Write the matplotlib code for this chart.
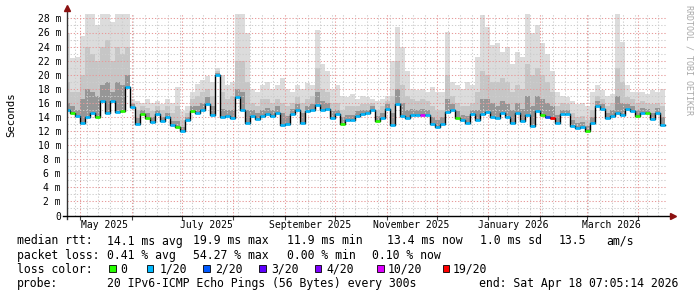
import numpy as np
import pandas as pd
import matplotlib
matplotlib.use("Agg")
import matplotlib.pyplot as plt
import matplotlib.dates as mdates
from matplotlib.ticker import MultipleLocator, FuncFormatter, NullFormatter
from matplotlib.patches import Rectangle

MONO = "DejaVu Sans Mono"
plt.rcParams["font.family"] = [MONO]

# ---------------- data (ms, one value per 3-day step) ----------------
data_start = "2025-04-22"
data_step = "3D"

median_ms = [
    15.0, 14.6, 14.2, 13.2, 14.0, 14.6, 14.0, 16.3, 14.5, 16.3,
    14.7, 14.8, 18.2, 15.4, 13.0, 14.4, 13.9, 13.3, 14.4, 13.4,
    14.0, 12.8, 12.6, 12.0, 13.5, 14.8, 14.6, 15.0, 15.8, 14.3,
    19.9, 14.0, 14.2, 13.8, 16.9, 15.0, 13.2, 14.1, 13.7, 14.1,
    14.4, 14.1,
    14.6, 12.8, 13.0, 14.4, 15.0, 13.1, 14.8, 15.0, 15.7, 15.0,
    15.2, 13.9, 14.4, 13.0, 13.6, 13.5, 14.1, 14.4, 14.5, 15.0,
    13.4, 13.9, 15.2, 12.8, 15.9, 14.2, 13.8, 14.3, 14.3, 14.3,
    14.3, 13.0, 12.6, 13.0, 14.7, 15.0, 13.9, 13.5, 13.2, 14.4,
    13.6, 14.4, 14.7, 14.0, 13.8, 14.5, 14.0, 13.1, 14.5, 13.4,
    14.3, 12.7, 14.8, 14.3, 14.0, 13.8, 13.2, 14.4, 14.4, 12.7,
    12.5, 12.6, 12.0, 13.1, 15.6, 15.2, 13.8, 14.2, 14.6, 14.3,
    15.1, 14.9, 14.2, 14.6, 14.5, 13.7, 14.6, 12.8,
]

p70_ms = [
    16.0, 15.6, 15.0, 16.5, 18.0, 17.5, 17.0, 18.5, 19.0, 17.5,
    19.0, 18.5, 20.0, 15.8, 13.8, 15.0, 14.5, 14.0, 15.0, 14.0,
    14.6, 13.4, 13.4, 12.6, 14.0, 15.6, 15.5, 16.0, 16.8, 15.5,
    20.2, 15.2, 15.0, 15.0, 18.0, 17.5, 15.0, 15.0, 14.5, 15.0,
    15.3, 15.0,
    15.5, 14.5, 14.2, 15.2, 15.8, 14.5, 15.6, 15.8, 17.5, 16.2,
    16.0, 14.8, 15.0, 14.0, 14.3, 14.3, 14.8, 15.0, 15.0, 15.5,
    14.2, 14.6, 15.8, 14.5, 18.0, 16.0, 15.0, 15.2, 15.0, 15.2,
    15.0, 14.0, 13.5, 14.0, 16.5, 15.8, 14.8, 14.3, 14.2, 15.0,
    15.0, 16.5, 16.5, 16.0, 15.5, 16.2, 15.8, 15.0, 16.0, 15.2,
    17.0, 15.5, 17.0, 16.5, 16.0, 15.5, 14.3, 15.0, 15.0, 13.5,
    13.2, 13.3, 12.7, 14.0, 16.2, 15.8, 14.6, 15.0, 17.0, 16.0,
    15.8, 15.6, 15.0, 15.3, 15.2, 14.6, 15.3, 14.0,
]

p90_ms = [
    19.0, 17.5, 17.5, 20.0, 24.0, 23.0, 22.0, 24.0, 25.0, 22.0,
    24.0, 23.0, 24.0, 16.0, 15.0, 15.5, 15.3, 14.8, 15.5, 15.0,
    15.5, 14.5, 15.5, 13.5, 14.5, 16.5, 17.0, 17.5, 18.0, 17.0,
    20.5, 17.5, 16.5, 17.0, 22.0, 22.0, 19.0, 16.0, 15.5, 16.5,
    16.5, 16.0,
    16.5, 16.0, 15.5, 16.0, 16.8, 16.0, 16.5, 17.0, 21.0, 18.0,
    17.5, 16.0, 16.0, 15.0, 15.5, 15.5, 15.5, 15.8, 15.8, 16.0,
    15.0, 15.5, 16.2, 17.0, 22.0, 18.5, 17.0, 16.5, 16.2, 16.5,
    16.2, 15.5, 15.0, 15.0, 20.0, 17.0, 16.0, 15.5, 15.5, 16.0,
    17.5, 20.5, 20.0, 19.0, 19.0, 19.5, 19.0, 17.5, 18.5, 18.0,
    21.5, 20.0, 21.0, 20.0, 19.0, 17.5, 15.5, 16.0, 15.8, 14.5,
    14.0, 14.2, 13.5, 15.0, 17.0, 16.5, 15.5, 16.0, 21.0, 19.0,
    16.8, 16.5, 16.0, 16.3, 16.0, 15.8, 16.0, 15.5,
]

max_ms = [
    26.0, 22.4, 22.5, 25.5, 28.6, 28.6, 27.0, 28.6, 28.6, 27.5,
    28.6, 28.6, 28.6, 16.5, 16.2, 16.0, 16.5, 16.0, 16.2, 15.8,
    16.5, 16.0, 18.3, 14.8, 15.5, 17.5, 18.7, 19.3, 19.8, 19.0,
    21.0, 20.0, 18.5, 19.0, 28.6, 28.6, 26.0, 18.0, 17.5, 18.5,
    19.0, 18.0,
    18.5, 19.6, 18.0, 17.5, 18.5, 18.0, 18.8, 18.5, 26.3, 21.5,
    20.5, 18.0, 18.5, 17.0, 16.8, 17.2, 16.5, 17.0, 16.8, 16.5,
    16.2, 16.5, 17.0, 22.0, 26.8, 24.0, 20.5, 18.0, 17.8, 18.0,
    17.5, 18.2, 17.5, 17.5, 26.1, 19.0, 18.5, 18.0, 19.0, 18.5,
    22.5, 28.5, 26.8, 24.2, 24.5, 23.3, 24.0, 21.5, 23.3, 22.5,
    28.6, 26.0, 27.1, 24.5, 23.0, 20.5, 17.5, 17.0, 16.9, 16.2,
    15.8, 16.0, 15.5, 17.5, 18.5, 17.8, 17.0, 17.2, 28.6, 24.6,
    18.5, 17.5, 17.5, 17.5, 17.3, 17.8, 17.5, 18.0,
]

# lost pings out of 20 for each step
loss_20 = [
    1, 0, 1, 1, 1, 1, 0, 1, 1, 1,
    1, 0, 1, 1, 1, 0, 0, 1, 1, 1,
    1, 1, 0, 1, 1, 0, 1, 1, 1, 1,
    1, 1, 1, 1, 1, 1, 1, 1, 1, 1,
    1, 1, 1, 1, 1, 1, 1, 1, 1, 1,
    1, 1, 1, 1, 1, 0, 1, 1, 1, 1,
    1, 1, 0, 1, 1, 1, 1, 1, 1, 1,
    1, 10, 1, 1, 1, 1, 1, 1, 0, 1,
    1, 1, 1, 1, 1, 1, 1, 1, 1, 1,
    1, 1, 1, 1, 1, 0, 2, 19, 1, 1,
    1, 1, 1, 1, 0, 1, 1, 1, 1, 1,
    1, 1, 1, 1, 0, 1, 0, 1, 1, 1,
]

loss_levels = [0, 1, 2, 3, 4, 10, 19]
loss_names = ["0", "1/20", "2/20", "3/20", "4/20", "10/20", "19/20"]
loss_colors = ["#26ff00", "#00b8ff", "#0059ff", "#5e00ff", "#7e00ff", "#dd00ff", "#ff0000"]

graph_end = pd.Timestamp("2026-04-18 07:05:14")
graph_days = 360

month_label_dates = ["2025-05-16", "2025-07-16", "2025-09-16",
                     "2025-11-16", "2026-01-16", "2026-03-16"]
month_labels = ["May 2025", "July 2025", "September 2025",
                "November 2025", "January 2026", "March 2026"]

row_rtt = ["median rtt:", "14.1 ms avg", "19.9 ms max", "11.9 ms min",
           "13.4 ms now", "1.0 ms sd", "13.5", "am/s"]
row_loss = ["packet loss:", "0.41 % avg", "54.27 % max", "0.00 % min", "0.10 % now"]
row_probe = ["probe:", "20 IPv6-ICMP Echo Pings (56 Bytes) every 300s",
             "end: Sat Apr 18 07:05:14 2026"]

# ---------------- layout helpers ----------------
W, H = 697, 297


def fx(px):
    return px / W


def fy(py):
    return 1 - py / H


fig = plt.figure(figsize=(W / 100, H / 100), dpi=100, facecolor="white")
ax_left, ax_right, ax_top, ax_bot = 67, 667, 14.2, 215.5
ax = fig.add_axes([fx(ax_left), fy(ax_bot), (ax_right - ax_left) / W, (ax_bot - ax_top) / H])
ax.set_facecolor("white")

edges = pd.date_range(data_start, periods=len(median_ms) + 1, freq=data_step)
x = mdates.date2num(edges.to_pydatetime())


def ext(a):
    a = np.asarray(a, dtype=float)
    return np.append(a, a[-1])


med = np.asarray(median_ms, dtype=float)

# smoke
ax.fill_between(x, ext(p90_ms), ext(max_ms), step="post", color="#dcdcdc", lw=0, zorder=1)
ax.fill_between(x, ext(p70_ms), ext(p90_ms), step="post", color="#c6c6c6", lw=0, zorder=1)
ax.fill_between(x, ext(median_ms), ext(p70_ms), step="post", color="#969696", lw=0, zorder=1)

# median line
ax.step(x, ext(median_ms), where="post", color="black", lw=1.0, zorder=3)
cmap = dict(zip(loss_levels, loss_colors))
seg_colors = [cmap[v] for v in loss_20]
ax.hlines(med, x[:-1], x[1:], colors=seg_colors, lw=1.9, zorder=4)

# limits
x0 = mdates.date2num((graph_end - pd.Timedelta(days=graph_days)).to_pydatetime())
x1 = mdates.date2num(graph_end.to_pydatetime())
ax.set_xlim(x0, x1)
ax.set_ylim(0, 28.6)

# grids
ax.set_axisbelow(False)
ax.xaxis.set_major_locator(mdates.MonthLocator())
ax.xaxis.set_minor_locator(mdates.WeekdayLocator(byweekday=mdates.MO))
ax.xaxis.set_major_formatter(NullFormatter())
ax.xaxis.set_minor_formatter(NullFormatter())
ax.yaxis.set_major_locator(MultipleLocator(2))
ax.yaxis.set_minor_locator(MultipleLocator(1))
ax.yaxis.set_major_formatter(FuncFormatter(lambda v, p: "0" if abs(v) < 1e-9 else f"{v:.0f} m"))

dots = (0, (1.2, 1.8))
ax.grid(which="minor", axis="both", color="#cdcdcd", linestyle=dots, lw=0.75, zorder=2.5)
ax.grid(which="major", axis="both", color="#e79a9a", linestyle=dots, lw=0.75, zorder=2.6)

ax.tick_params(axis="y", which="both", length=0, pad=4.3, labelsize=7, colors="black")
ax.tick_params(axis="x", which="major", length=3, width=0.8, direction="out", color="#444444")
ax.tick_params(axis="x", which="minor", length=0)

for s in ax.spines.values():
    s.set_visible(False)

# axis lines with arrows
axh = ax_bot - ax_top
axw = ax_right - ax_left
ax.plot([0, 0], [-3 / axh, 1 + 4 / axh], transform=ax.transAxes, color="#333333",
        lw=1.0, clip_on=False, zorder=6)
ax.plot([-4 / axw, 1 + 5 / axw], [0, 0], transform=ax.transAxes, color="black",
        lw=1.0, clip_on=False, zorder=6)
ax.plot([0], [1 + 6 / axh], marker="^", ms=4, color="#8b1010", transform=ax.transAxes,
        clip_on=False, zorder=7)
ax.plot([1 + 6 / axw], [0], marker=">", ms=4, color="#8b1010", transform=ax.transAxes,
        clip_on=False, zorder=7)

# month labels
for d, lab in zip(month_label_dates, month_labels):
    ax.text(mdates.date2num(pd.Timestamp(d).to_pydatetime()), -12.5 / axh, lab,
            transform=ax.get_xaxis_transform(), ha="center", va="baseline", fontsize=7)

# y label & watermark
fig.text(fx(11), fy(114.5), "Seconds", rotation=90, ha="center", va="center", fontsize=7.7)
fig.text(fx(688.5), fy(60), "RRDTOOL / TOBI OETIKER", rotation=270, ha="center",
         va="center", fontsize=6, color="#a8a8a8")

# legend
FS = 8.3
rtt_x = [16.7, 107.3, 192.7, 287.3, 386.7, 480, 558.3, 606.7]
for s, px in zip(row_rtt, rtt_x):
    fig.text(fx(px), fy(244.5), s, ha="left", va="baseline", fontsize=FS)
loss_x = [16.7, 107.3, 193.3, 286.7, 372.3]
for s, px in zip(row_loss, loss_x):
    fig.text(fx(px), fy(258.7), s, ha="left", va="baseline", fontsize=FS)
fig.text(fx(16.7), fy(272.9), "loss color:", ha="left", va="baseline", fontsize=FS)
sq_x = [109.3, 146.7, 203.3, 259.3, 315.0, 377.3, 442.7]
lab_x = [120.0, 159.3, 215.0, 271.7, 326.7, 387.7, 452.7]
for name, col, sx, lx in zip(loss_names, loss_colors, sq_x, lab_x):
    fig.add_artist(Rectangle((fx(sx), fy(271.7)), 6.3 / W, 6.5 / H, transform=fig.transFigure,
                             facecolor=col, edgecolor="black", lw=0.6))
    fig.text(fx(lx), fy(272.9), name, ha="left", va="baseline", fontsize=FS)
probe_x = [16.7, 107.3, 479.3]
for s, px in zip(row_probe, probe_x):
    fig.text(fx(px), fy(287.1), s, ha="left", va="baseline", fontsize=FS)

fig.savefig("out.png", dpi=100, facecolor="white")
